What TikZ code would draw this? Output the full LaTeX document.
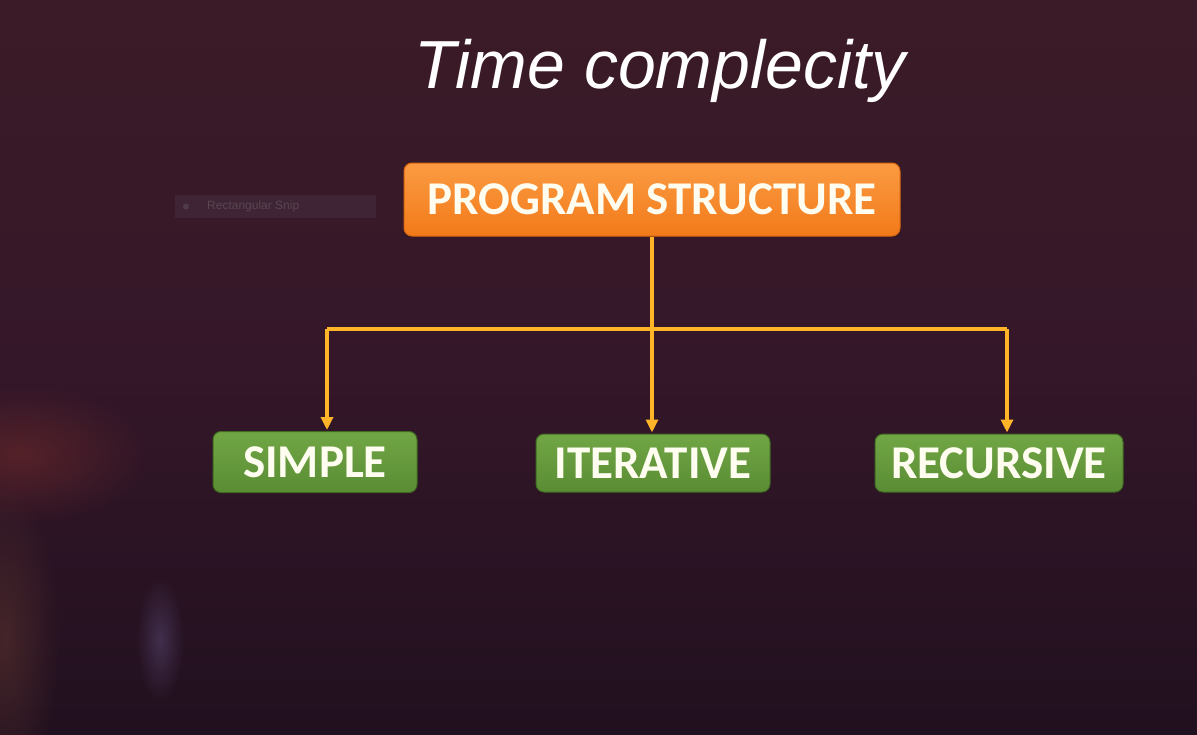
\documentclass[tikz,border=0pt]{standalone}
\usepackage{fontspec}
\usetikzlibrary{arrows.meta,fadings}
\newfontfamily\boxfont{Carlito}
\newfontfamily\titlefont{Liberation Sans}
\tikzfading[name=softglow, inner color=transparent!35, outer color=transparent!100]
\definecolor{bgtop}{HTML}{3B1B27}
\definecolor{bgmid}{HTML}{341729}
\definecolor{bgbot}{HTML}{21101F}
\definecolor{orTop}{HTML}{FB9B42}
\definecolor{orBot}{HTML}{F27A1A}
\definecolor{orEdge}{HTML}{D9660F}
\definecolor{grTop}{HTML}{71A645}
\definecolor{grBot}{HTML}{5A8D34}
\definecolor{grEdge}{HTML}{3F6A22}
\definecolor{linecol}{HTML}{FFB527}
\definecolor{boxtext}{HTML}{FFFDF0}
\definecolor{glowred}{RGB}{105,40,42}
\definecolor{glowbrown}{RGB}{85,48,45}
\definecolor{glowpurple}{RGB}{80,62,100}
\definecolor{snipbg}{RGB}{62,36,52}
\definecolor{snipicon}{RGB}{80,60,72}
\definecolor{sniptext}{RGB}{90,70,82}
\tikzset{
  boxlabel/.style={inner sep=0pt, text height=30pt, text depth=0pt,
    font=\boxfont\bfseries\fontsize{47}{50}\selectfont, text=boxtext,
    rounded corners=8pt, line width=1pt},
  topbox/.style={boxlabel, top color=orTop, bottom color=orBot, draw=orEdge},
  leafbox/.style={boxlabel, top color=grTop, bottom color=grBot, draw=grEdge},
  conn/.style={draw=linecol, line width=3.2pt},
  connarrow/.style={conn, -{Triangle[width=12pt,length=13pt]}, shorten >=1pt}
}
\begin{document}
\begin{tikzpicture}[x=1pt,y=-1pt]
\useasboundingbox (0,0) rectangle (1197,734);
% background
\shade[top color=bgtop, bottom color=bgbot, middle color=bgmid] (0,0) rectangle (1197,734);
\fill[glowred, path fading=softglow] (20,455) ellipse [x radius=130, y radius=70];
\fill[glowbrown, path fading=softglow] (5,640) ellipse [x radius=55, y radius=160];
\fill[glowpurple, path fading=softglow] (160,640) ellipse [x radius=24, y radius=62];
% faint snip widget
\fill[snipbg] (175,195) rectangle (376,218);
\fill[snipicon] (186,206.5) circle (3);
\node[anchor=west, inner sep=0pt, text=sniptext,
  font=\titlefont\fontsize{12}{14}\selectfont] (snip) at (207,206.5) {Rectangular Snip};
% title
\node[anchor=base, inner sep=0pt, text=white,
  font=\titlefont\itshape\fontsize{68}{72}\selectfont] (title) at (660,88) {Time complecity};
% boxes
\node[topbox, minimum width=496pt, minimum height=73pt] (ps) at (652,199.5) {PROGRAM STRUCTURE};
\node[leafbox, minimum width=204pt, minimum height=61pt] (si) at (315,462) {SIMPLE};
\node[leafbox, minimum width=234pt, minimum height=58pt] (it) at (653,463) {ITERATIVE};
\node[leafbox, minimum width=248pt, minimum height=58pt] (re) at (999,463) {RECURSIVE};
% connectors
\coordinate (jm) at (652,329);
\coordinate (jl) at (327,329);
\coordinate (jr) at (1007,329);
\draw[conn] (jl) -- (jr);
\draw[connarrow] (ps.south -| jm) -- (jm |- it.north);
\draw[connarrow] (jl) -- (jl |- si.north);
\draw[connarrow] (jr) -- (jr |- re.north);
\end{tikzpicture}
\end{document}
